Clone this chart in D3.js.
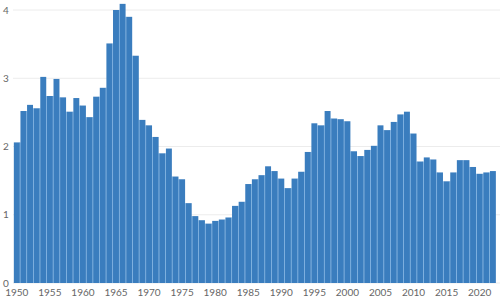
<!DOCTYPE html>
<html><head><meta charset="utf-8">
<script src="https://cdn.jsdelivr.net/npm/d3@7"></script>
<style>body{margin:0;background:#fff}svg{display:block}</style>
</head><body>
<svg id="c" width="500" height="300"></svg>
<script>
const years = d3.range(1950, 2023);
const values = [
 2.06,2.52,2.61,2.56,3.02,2.74,2.99,2.72,2.51,2.71,
 2.60,2.43,2.73,2.86,3.51,4.00,4.09,3.90,3.33,2.39,
 2.31,2.14,1.90,1.97,1.56,1.52,1.17,0.98,0.92,0.87,
 0.91,0.93,0.96,1.13,1.19,1.45,1.52,1.58,1.71,1.64,
 1.53,1.39,1.53,1.63,1.92,2.34,2.31,2.52,2.41,2.40,
 2.37,1.93,1.86,1.95,2.01,2.31,2.24,2.36,2.47,2.51,
 2.19,1.78,1.84,1.81,1.62,1.49,1.62,1.80,1.80,1.70,
 1.60,1.62,1.64
];
const yTicks = [0,1,2,3,4];
const xTicks = [1950,1955,1960,1965,1970,1975,1980,1985,1990,1995,2000,2005,2010,2015,2020];

const svg = d3.select("#c");
const x = d3.scaleBand().domain(years).range([13.7, 496]).paddingInner(0.1).paddingOuter(0.02);
const y = d3.scaleLinear().domain([0,4]).range([283, 10]);
const font = "Lato, 'Open Sans', sans-serif";

svg.append("g").selectAll("line").data(yTicks).join("line")
  .attr("x1", 13).attr("x2", 500)
  .attr("y1", d => y(d)).attr("y2", d => y(d))
  .attr("stroke", "#ececec").attr("stroke-width", 1);

svg.append("g").selectAll("text").data(yTicks).join("text")
  .attr("x", 3).attr("y", d => y(d)).attr("dy", "0.35em")
  .attr("font-family", font).attr("font-size", 10).attr("fill", "#666")
  .text(d => d);

// light-blue seams between neighbouring bars
svg.append("g").selectAll("rect").data(years.slice(0, -1)).join("rect")
  .attr("x", d => x(d) + x.bandwidth() - 0.5).attr("width", x.step() - x.bandwidth() + 1)
  .attr("y", (d,i) => y(Math.min(values[i], values[i+1])))
  .attr("height", (d,i) => y(0) - y(Math.min(values[i], values[i+1])))
  .attr("fill", "#9fc8ee");

svg.append("g").selectAll("rect").data(years).join("rect")
  .attr("x", d => x(d)).attr("width", x.bandwidth())
  .attr("y", (d,i) => y(values[i])).attr("height", (d,i) => y(0) - y(values[i]))
  .attr("fill", "#3a7dbe");

svg.append("g").selectAll("text").data(xTicks).join("text")
  .attr("x", d => x(d) + x.bandwidth()/2).attr("y", 292).attr("dy", "0.35em")
  .attr("text-anchor", "middle")
  .attr("font-family", font).attr("font-size", 10).attr("fill", "#666")
  .text(d => d);
</script>
</body></html>
